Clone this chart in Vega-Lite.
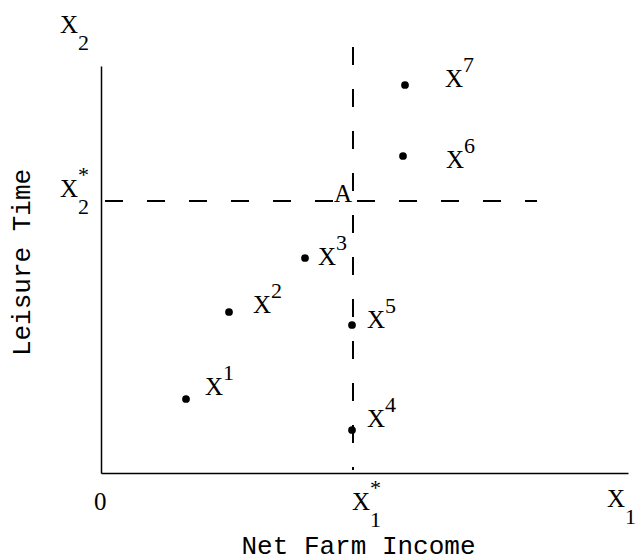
{
  "$schema": "https://vega.github.io/schema/vega-lite/v6.json",
  "width": 527,
  "height": 407,
  "autosize": {"type": "none"},
  "padding": {"left": 101, "top": 66, "right": 11, "bottom": 87},
  "background": "white",
  "config": {"view": {"stroke": null}, "font": "Liberation Mono"},
  "datasets": {
    "points": [
      {"name": "X1", "x": 85, "y": 74},
      {"name": "X2", "x": 128, "y": 161},
      {"name": "X3", "x": 204, "y": 215},
      {"name": "X4", "x": 251, "y": 43},
      {"name": "X5", "x": 251, "y": 148},
      {"name": "X6", "x": 302, "y": 317},
      {"name": "X7", "x": 304, "y": 388}
    ],
    "guides": [
      {"x": 252, "y": 426, "xe": 252, "ye": 3},
      {"x": 4, "y": 272, "xe": 436, "ye": 272}
    ],
    "labels": [
      {"x": 104, "y": 78, "base": "X", "sup": "1", "sub": ""},
      {"x": 152, "y": 160, "base": "X", "sup": "2", "sub": ""},
      {"x": 217, "y": 208, "base": "X", "sup": "3", "sub": ""},
      {"x": 266, "y": 46, "base": "X", "sup": "4", "sub": ""},
      {"x": 266, "y": 145, "base": "X", "sup": "5", "sub": ""},
      {"x": 345, "y": 305, "base": "X", "sup": "6", "sub": ""},
      {"x": 344, "y": 386, "base": "X", "sup": "7", "sub": ""},
      {"x": 251, "y": -37, "base": "X", "sup": "*", "sub": "1"},
      {"x": 506, "y": -34, "base": "X", "sup": "", "sub": "1"},
      {"x": -41, "y": 276, "base": "X", "sup": "*", "sub": "2"},
      {"x": -41, "y": 440, "base": "X", "sup": "", "sub": "2"},
      {"x": -7, "y": -37, "base": "0", "sup": "", "sub": ""},
      {"x": 233, "y": 271, "base": "A", "sup": "", "sub": ""}
    ]
  },
  "encoding": {
    "x": {
      "field": "x",
      "type": "quantitative",
      "scale": {"domain": [0, 527], "nice": false, "zero": false},
      "axis": {
        "title": "Net Farm Income",
        "domain": true,
        "domainColor": "black",
        "domainWidth": 1.5,
        "ticks": false,
        "labels": false,
        "grid": false,
        "titleFont": "Liberation Mono",
        "titleFontSize": 26,
        "titleFontWeight": "normal",
        "titleColor": "black",
        "titleX": 257,
        "titleY": 80,
        "titleAlign": "center",
        "titleBaseline": "alphabetic"
      }
    },
    "y": {
      "field": "y",
      "type": "quantitative",
      "scale": {"domain": [0, 407], "nice": false, "zero": false},
      "axis": {
        "title": "Leisure Time",
        "domain": true,
        "domainColor": "black",
        "domainWidth": 1.5,
        "ticks": false,
        "labels": false,
        "grid": false,
        "titleFont": "Liberation Mono",
        "titleFontSize": 26,
        "titleFontWeight": "normal",
        "titleColor": "black",
        "titleAngle": 270,
        "titleX": -72,
        "titleY": 196,
        "titleAlign": "center",
        "titleBaseline": "alphabetic"
      }
    }
  },
  "layer": [
    {
      "data": {"name": "guides"},
      "mark": {"type": "rule", "strokeDash": [18, 24], "strokeWidth": 2, "color": "black"},
      "encoding": {"x2": {"field": "xe"}, "y2": {"field": "ye"}}
    },
    {
      "data": {"name": "points"},
      "mark": {"type": "circle", "size": 60, "color": "black", "opacity": 1}
    },
    {
      "data": {"name": "labels"},
      "mark": {"type": "text", "align": "left", "baseline": "alphabetic", "font": "Liberation Serif", "fontSize": 25, "color": "black"},
      "encoding": {"text": {"field": "base"}}
    },
    {
      "data": {"name": "labels"},
      "mark": {"type": "text", "align": "left", "baseline": "alphabetic", "font": "Liberation Serif", "fontSize": 22, "color": "black", "dx": 18, "dy": -15},
      "encoding": {"text": {"field": "sup"}}
    },
    {
      "data": {"name": "labels"},
      "mark": {"type": "text", "align": "left", "baseline": "alphabetic", "font": "Liberation Serif", "fontSize": 22, "color": "black", "dx": 18, "dy": 17},
      "encoding": {"text": {"field": "sub"}}
    }
  ]
}
